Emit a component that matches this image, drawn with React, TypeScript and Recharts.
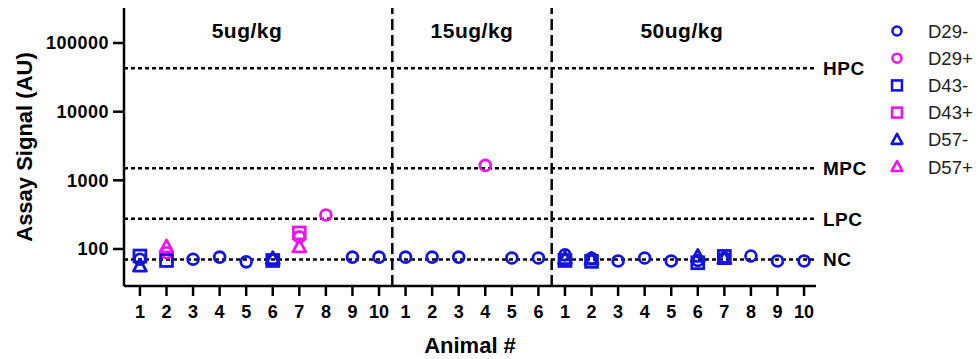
import React from "react"
import { ScatterChart, Scatter, XAxis, YAxis, ReferenceLine, ReferenceArea } from "recharts"

// x positions 1..26 across the three dose groups
const animalLabels = ["1", "2", "3", "4", "5", "6", "7", "8", "9", "10", "1", "2", "3", "4", "5", "6", "1", "2", "3", "4", "5", "6", "7", "8", "9", "10"]

const d29Neg = [71, null, 71, 76, 65, 70, null, null, 76, 76, 76, 76, 76, null, 74, 74, 82, 73, 67, 74, 67, 68, 74, 79, 67, 67]
const d29Pos = [null, 88, null, null, null, null, 150, 312, null, null, null, null, null, 1650, null, null, null, null, null, null, null, null, null, null, null, null]
const d43Neg = [79, 68, null, null, null, 68, null, null, null, null, null, null, null, null, null, null, 68, 66, null, null, null, 63, 78, null, null, null]
const d43Pos = [null, null, null, null, null, null, 171, null, null, null, null, null, null, null, null, null, null, null, null, null, null, null, null, null, null, null]
const d57Neg = [56, null, null, null, null, 72, null, null, null, null, null, null, null, null, null, null, 72, 71, null, null, null, 78, 72, null, null, null]
const d57Pos = [null, 107, null, null, null, null, 107, null, null, null, null, null, null, null, null, null, null, null, null, null, null, null, null, null, null, null]

const controls = [
  { name: "HPC", value: 43000 },
  { name: "MPC", value: 1500 },
  { name: "LPC", value: 275 },
  { name: "NC", value: 70 },
]
const groups = [
  { name: "5ug/kg", center: 5.03 },
  { name: "15ug/kg", center: 13.5 },
  { name: "50ug/kg", center: 21.4 },
]
const groupBreaks = [10.5, 16.5]
const yTicks = [100, 1000, 10000, 100000]

const BLUE = "#1414dc"
const PINK = "#ee14ee"
const FONT = "'Liberation Sans', Arial, sans-serif"

const positions = animalLabels.map((_, i) => i + 1)
const toPoints = (vals: (number | null)[]) =>
  positions.map((x, i) => ({ x, y: vals[i] })).filter(p => p.y !== null)

type Kind = "circle" | "square" | "triangle"

function Marker({ kind, color, cx, cy, small }: { kind: Kind; color: string; cx: number; cy: number; small?: boolean }) {
  const s = small ? 0.9 : 1.08
  const sw = small ? 2.6 : 2.8
  if (kind === "circle") return <circle cx={cx} cy={cy} r={5 * s} fill="none" stroke={color} strokeWidth={sw} />
  if (kind === "square") return <rect x={cx - 5.5 * s} y={cy - 5.5 * s} width={11 * s} height={11 * s} fill="none" stroke={color} strokeWidth={sw} />
  return (
    <polygon
      points={`${cx},${cy - 6.5 * s} ${cx - 6 * s},${cy + 4.5 * s} ${cx + 6 * s},${cy + 4.5 * s}`}
      fill="none"
      stroke={color}
      strokeWidth={sw}
      strokeLinejoin="round"
    />
  )
}

const series: { name: string; vals: (number | null)[]; kind: Kind; color: string }[] = [
  { name: "D29-", vals: d29Neg, kind: "circle", color: BLUE },
  { name: "D29+", vals: d29Pos, kind: "circle", color: PINK },
  { name: "D43-", vals: d43Neg, kind: "square", color: BLUE },
  { name: "D43+", vals: d43Pos, kind: "square", color: PINK },
  { name: "D57-", vals: d57Neg, kind: "triangle", color: BLUE },
  { name: "D57+", vals: d57Pos, kind: "triangle", color: PINK },
]

function SideLegend() {
  return (
    <svg width={100} height={180} style={{ position: "absolute", left: 880, top: 0 }}>
      {series.map((s, i) => (
        <g key={s.name}>
          <Marker kind={s.kind} color={s.color} cx={17} cy={31 + i * 27.2} small />
          <text x={48} y={31 + i * 27.2} dy="0.36em" fontSize={18.5} fill="#222" fontFamily={FONT}>
            {s.name}
          </text>
        </g>
      ))}
    </svg>
  )
}

export default function App() {
  const yTickStyle = { fill: "#000", fontSize: 18, fontWeight: 700, fontFamily: FONT, style: { letterSpacing: "0.5px" } }
  const xTickStyle = { fill: "#000", fontSize: 18, fontWeight: 700, fontFamily: FONT }
  return (
    <div style={{ position: "absolute", left: 0, top: 0, width: 980, height: 359, background: "#fff" }}>
      <ScatterChart width={980} height={359} margin={{ top: 8, right: 164, bottom: 1, left: 24 }}>
        <XAxis
          type="number"
          dataKey="x"
          domain={[0.4, 26.45]}
          ticks={positions}
          tickFormatter={(v: number) => animalLabels[v - 1]}
          allowDataOverflow
          height={72}
          stroke="#000"
          strokeWidth={2.5}
          tickSize={10}
          tickMargin={9}
          tick={xTickStyle}
          interval={0}
          label={{ value: "Animal #", position: "insideBottom", offset: 5, fontSize: 22, fontWeight: 700, fill: "#000", fontFamily: FONT }}
        />
        <XAxis xAxisId="top" orientation="top" type="number" domain={[0.4, 26.45]} height={0} tick={false} tickLine={false} stroke="#000" strokeWidth={2.5} />
        <YAxis
          type="number"
          dataKey="y"
          scale="log"
          domain={[28.9, 323600]}
          allowDataOverflow
          ticks={yTicks}
          width={100}
          stroke="#000"
          strokeWidth={2.5}
          tickSize={11}
          tickMargin={4}
          tick={yTickStyle}
          label={{ value: "Assay Signal (AU)", angle: -90, position: "insideLeft", offset: 0, fontSize: 22, fontWeight: 700, fill: "#000", fontFamily: FONT, style: { textAnchor: "middle" } }}
        />
        <YAxis yAxisId="right" orientation="right" width={0} tick={false} tickLine={false} stroke="#000" strokeWidth={2.5} />

        {groups.map(g => (
          <ReferenceArea
            key={g.name}
            x1={g.center - 3}
            x2={g.center + 3}
            fill="none"
            stroke="none"
            ifOverflow="visible"
            label={{ value: g.name, position: "insideTop", offset: 15, fontSize: 21, fontWeight: 700, fill: "#000", fontFamily: FONT, letterSpacing: 0.5 }}
          />
        ))}
        {groupBreaks.map(x => (
          <ReferenceLine key={x} x={x} stroke="#000" strokeWidth={2.5} strokeDasharray="11 5" />
        ))}
        {controls.map(c => (
          <ReferenceLine
            key={c.name}
            y={c.value}
            stroke="#000"
            strokeWidth={2.5}
            strokeDasharray="4 3"
            label={{ value: c.name, position: "right", offset: 7, fontSize: 19, fontWeight: 700, fill: "#000", fontFamily: FONT, letterSpacing: 0.5 }}
          />
        ))}

        {series.map(s => (
          <Scatter
            key={s.name}
            name={s.name}
            data={toPoints(s.vals)}
            isAnimationActive={false}
            shape={(p: any) => <Marker kind={s.kind} color={s.color} cx={p.cx} cy={p.cy} />}
          />
        ))}
      </ScatterChart>
      <SideLegend />
    </div>
  )
}
